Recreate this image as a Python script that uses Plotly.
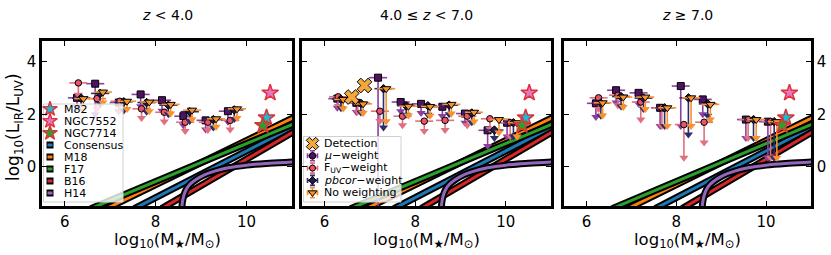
import plotly.graph_objects as go

FONT = "DejaVu Sans"
W, H = 831, 255

# ---------------- data ----------------
# local starburst galaxies (same in every panel)
STAR_NAMES = ["M82", "NGC7552", "NGC7714"]
STAR_M = [10.44, 10.52, 10.36]
STAR_IRX = [1.87, 2.82, 1.58]
STAR_FILL = ["#17becf", "#e377c2", "#2ca02c"]

# literature relations
REL_NAMES = ["Consensus", "M18", "F17", "B16", "H14"]
REL_COLORS = ["#1f77b4", "#ff7f0e", "#2ca02c", "#d62728", "#9467bd"]
CONS_M = [7.53, 11.1]
CONS_IRX = [-1.6, 1.58]
M18_M = [6.92, 11.1]
M18_IRX = [-1.6, 1.93]
F17_M = [6.57, 11.1]
F17_IRX = [-1.6, 1.68]
B16_M = [8.13, 11.1]
B16_IRX = [-1.6, 1.40]
H14_M = [8.57, 8.59, 8.62, 8.67, 8.75, 8.88, 9.05, 9.3, 9.6, 10.0, 10.5, 11.1]
H14_IRX = [-1.7, -1.35, -1.1, -0.88, -0.68, -0.5, -0.33, -0.17, -0.04, 0.06, 0.13, 0.19]

# panel titles
TITLES = ["<i>z</i> < 4.0", "4.0 ≤ <i>z</i> < 7.0", "<i>z</i> ≥ 7.0"]

# ---- panel 1: z < 4 ----
P1_MU_M = [6.27, 6.67, 7.19, 7.67, 8.14, 8.61, 9.10, 9.59]
P1_MU_IRX = [2.63, 3.17, 2.45, 2.76, 2.54, 1.93, 1.77, 2.12]
P1_MU_TIP = [2.28, 2.00, 2.12, 2.31, 2.14, 1.58, 1.42, 1.72]
P1_FUV_M = [6.30, 6.71, 7.21, 7.69, 8.19, 8.65, 9.15, 9.64]
P1_FUV_IRX = [3.20, 2.60, 2.50, 2.21, 2.08, 1.70, 1.70, 1.77]
P1_FUV_TIP = [2.75, 2.20, 2.15, 1.86, 1.73, 1.36, 1.40, 1.42]
P1_PBC_M = [6.36, 6.78, 7.30, 7.80, 8.28, 8.75, 9.27, 9.73]
P1_PBC_IRX = [2.62, 2.80, 2.48, 2.45, 2.35, 2.10, 1.80, 2.17]
P1_PBC_TIP = [2.27, 2.40, 2.15, 2.10, 2.00, 1.75, 1.50, 1.82]
P1_NOW_M = [6.41, 6.84, 7.37, 7.86, 8.33, 8.80, 9.33, 9.79]
P1_NOW_IRX = [2.60, 2.85, 2.50, 2.47, 2.38, 2.16, 1.83, 2.21]
P1_NOW_TIP = [2.25, 2.45, 2.20, 2.12, 2.03, 1.81, 1.53, 1.86]

# ---- panel 2: 4 <= z < 7 ----
P2_MU_M = [6.28, 6.70, 7.18, 7.68, 8.13, 8.60, 9.10, 9.60, 10.03]
P2_MU_IRX = [2.60, 2.44, 3.40, 2.47, 2.40, 2.29, 2.03, 1.39, 1.68]
P2_MU_TIP = [2.25, 2.09, -2.0, 2.12, 2.05, 1.94, 1.68, 0.79, 1.15]
P2_FUV_M = [6.30, 6.73, 7.22, 7.72, 8.20, 8.66, 9.15, 9.65, 10.10]
P2_FUV_IRX = [2.67, 2.45, 2.12, 1.93, 1.74, 1.77, 1.93, 1.83, 1.68]
P2_FUV_TIP = [2.32, 2.10, 1.75, 1.58, 1.36, 1.40, 1.58, 1.45, 1.15]
P2_PBC_M = [6.36, 6.80, 7.30, 7.80, 8.28, 8.75, 9.25, 9.75, 10.17]
P2_PBC_IRX = [2.58, 2.42, 2.98, 2.33, 2.33, 2.35, 2.05, 1.40, 1.68]
P2_PBC_TIP = [2.23, 2.07, 1.50, 1.98, 1.98, 2.00, 1.70, 1.10, 1.15]
P2_NOW_M = [6.41, 6.85, 7.36, 7.85, 8.33, 8.80, 9.30, 9.85, 10.25]
P2_NOW_IRX = [2.57, 2.40, 2.98, 2.31, 2.30, 2.38, 2.08, 1.80, 1.68]
P2_NOW_TIP = [2.22, 2.05, 1.74, 1.96, 1.95, 2.03, 1.73, 1.31, 1.15]
P2_DET_M = [6.60, 6.88]
P2_DET_IRX = [2.66, 3.10]

# ---- panel 3: z >= 7 ----
P3_MU_M = [6.21, 6.66, 7.16, 7.64, 8.10, 8.59, 9.55, 10.04]
P3_MU_IRX = [2.42, 2.92, 2.82, 2.25, 3.08, 2.57, 1.80, 1.72]
P3_MU_TIP = [1.90, 2.45, 2.40, 1.55, 1.55, 2.00, 1.10, 0.34]
P3_FUV_M = [6.27, 6.70, 7.21, 7.68, 8.17, 8.62, 9.60, 10.10]
P3_FUV_IRX = [2.63, 2.73, 2.47, 2.25, 1.61, 1.70, 1.80, 1.72]
P3_FUV_TIP = [2.20, 2.35, 1.80, 1.55, 0.34, 0.92, 1.10, 0.34]
P3_PBC_M = [6.32, 6.77, 7.27, 7.74, 8.27, 8.70, 9.72, 10.18]
P3_PBC_IRX = [2.43, 2.68, 2.62, 2.25, 2.63, 2.40, 1.80, 1.72]
P3_PBC_TIP = [1.95, 2.30, 2.20, 1.55, 1.23, 1.95, 1.10, 0.34]
P3_NOW_M = [6.36, 6.82, 7.31, 7.80, 8.33, 8.76, 9.78, 10.24]
P3_NOW_IRX = [2.44, 2.66, 2.66, 2.25, 2.63, 2.38, 1.80, 1.72]
P3_NOW_TIP = [1.96, 2.28, 2.20, 1.55, 1.55, 1.80, 1.10, 0.34]

XERR = 0.2
X_RANGE = [5.5, 11.0]
Y_RANGE = [-1.5, 4.8]
X_TICKS = [6, 8, 10]
Y_TICKS = [0, 2, 4]

# ---------------- styles ----------------
STYLES = {
    "mu": dict(sym="square", size=7, fill="#4f1260", err="#8c3f9e", name="<i>μ</i>−weight"),
    "fuv": dict(sym="circle", size=6.5, fill="#e85468", err="#e0707f", name="F<sub>UV</sub>−weight"),
    "pbc": dict(sym="diamond", size=6.5, fill="#1d1b4c", err="#2f2c6c", name="<i>pbcor</i>−weight"),
    "now": dict(sym="triangle-down", size=8, fill="#f7922e", err="#f7922e", name="No weighting"),
}
DET_COLOR = "#f5a83a"
STAR_EDGE = "#e0303a"

# panel pixel geometry
PANELS_PX = [(42, 292), (302, 551), (564, 811)]
TOP_PX, BOT_PX = 41, 206

fig = go.Figure()


def ax_ids(i):
    return ("x" if i == 0 else f"x{i+1}"), ("y" if i == 0 else f"y{i+1}")


def add_relations(xa, ya):
    rel = [(CONS_M, CONS_IRX), (M18_M, M18_IRX), (F17_M, F17_IRX), (B16_M, B16_IRX), (H14_M, H14_IRX)]
    for (mm, vv), col in zip(rel, REL_COLORS):
        shape = "spline" if len(mm) > 2 else "linear"
        fig.add_trace(go.Scatter(x=mm, y=vv, mode="lines", xaxis=xa, yaxis=ya,
                                 line=dict(color="black", width=7, shape=shape),
                                 showlegend=False, hoverinfo="skip"))
        fig.add_trace(go.Scatter(x=mm, y=vv, mode="lines", xaxis=xa, yaxis=ya,
                                 line=dict(color=col, width=3, shape=shape),
                                 showlegend=False, hoverinfo="skip"))


def add_series(xa, ya, m, irx, tip, st):
    minus = [v - t for v, t in zip(irx, tip)]
    fig.add_trace(go.Scatter(x=m, y=tip, mode="markers", xaxis=xa, yaxis=ya,
                             marker=dict(symbol="triangle-down", size=8, color=st["err"]),
                             showlegend=False, hoverinfo="skip"))
    fig.add_trace(go.Scatter(
        x=m, y=irx, mode="markers", xaxis=xa, yaxis=ya,
        marker=dict(symbol=st["sym"], size=st["size"], color=st["fill"],
                    line=dict(color="black", width=1)),
        error_x=dict(type="constant", value=XERR, color=st["err"], thickness=1.6, width=0),
        error_y=dict(type="data", symmetric=False, array=[0] * len(m), arrayminus=minus,
                     color=st["err"], thickness=1.6, width=0),
        showlegend=False, hoverinfo="skip"))


def add_stars(xa, ya):
    fig.add_trace(go.Scatter(x=STAR_M, y=STAR_IRX, mode="markers", xaxis=xa, yaxis=ya,
                             marker=dict(symbol="star", size=12.5, color=STAR_FILL,
                                         line=dict(color=STAR_EDGE, width=1.5)),
                             showlegend=False, hoverinfo="skip"))


PANEL_DATA = [
    [(P1_MU_M, P1_MU_IRX, P1_MU_TIP, "mu"), (P1_FUV_M, P1_FUV_IRX, P1_FUV_TIP, "fuv"),
     (P1_PBC_M, P1_PBC_IRX, P1_PBC_TIP, "pbc"), (P1_NOW_M, P1_NOW_IRX, P1_NOW_TIP, "now")],
    [(P2_MU_M, P2_MU_IRX, P2_MU_TIP, "mu"), (P2_FUV_M, P2_FUV_IRX, P2_FUV_TIP, "fuv"),
     (P2_PBC_M, P2_PBC_IRX, P2_PBC_TIP, "pbc"), (P2_NOW_M, P2_NOW_IRX, P2_NOW_TIP, "now")],
    [(P3_MU_M, P3_MU_IRX, P3_MU_TIP, "mu"), (P3_FUV_M, P3_FUV_IRX, P3_FUV_TIP, "fuv"),
     (P3_PBC_M, P3_PBC_IRX, P3_PBC_TIP, "pbc"), (P3_NOW_M, P3_NOW_IRX, P3_NOW_TIP, "now")],
]

for i in range(3):
    xa, ya = ax_ids(i)
    add_relations(xa, ya)
    for m, v, t, key in PANEL_DATA[i]:
        add_series(xa, ya, m, v, t, STYLES[key])
    if i == 1:
        fig.add_trace(go.Scatter(x=P2_DET_M, y=P2_DET_IRX, mode="markers", xaxis=xa, yaxis=ya,
                                 marker=dict(symbol="x", size=13, color=DET_COLOR,
                                             line=dict(color="black", width=1)),
                                 showlegend=False, hoverinfo="skip"))
    add_stars(xa, ya)

# ---------------- custom legends (overlay axes in pixel units) ----------------
PW1 = PANELS_PX[0][1] - PANELS_PX[0][0]
PW2 = PANELS_PX[1][1] - PANELS_PX[1][0]
PH = BOT_PX - TOP_PX


def leg_box(xa, ya, x0, x1, y0, y1):
    fig.add_trace(go.Scatter(x=[x0, x1, x1, x0, x0], y=[y0, y0, y1, y1, y0], mode="lines",
                             fill="toself", fillcolor="rgba(255,255,255,0.8)",
                             line=dict(color="#d0d0d0", width=1), xaxis=xa, yaxis=ya,
                             showlegend=False, hoverinfo="skip"))


def leg_text(xa, ya, x, y, txt):
    fig.add_annotation(x=x, y=y, xref=xa, yref=ya, text=txt, showarrow=False,
                       xanchor="left", yanchor="middle",
                       font=dict(family=FONT, size=11, color="black"))


# legend 1 (panel 1)
leg_box("x4", "y4", 1.5, 81, 63, 161)
L1_Y = [68, 80, 92, 104, 116, 128, 140, 152]
for k in range(3):
    fig.add_trace(go.Scatter(x=[8], y=[L1_Y[k]], mode="markers", xaxis="x4", yaxis="y4",
                             marker=dict(symbol="star", size=11, color=STAR_FILL[k],
                                         line=dict(color=STAR_EDGE, width=1.4)),
                             showlegend=False, hoverinfo="skip"))
    leg_text("x4", "y4", 20, L1_Y[k], STAR_NAMES[k])
for k in range(5):
    fig.add_trace(go.Scatter(x=[4.5, 11.5], y=[L1_Y[3 + k]] * 2, mode="lines", xaxis="x4", yaxis="y4",
                             line=dict(color="black", width=7), showlegend=False, hoverinfo="skip"))
    fig.add_trace(go.Scatter(x=[5.5, 10.5], y=[L1_Y[3 + k]] * 2, mode="lines", xaxis="x4", yaxis="y4",
                             line=dict(color=REL_COLORS[k], width=3), showlegend=False, hoverinfo="skip"))
    leg_text("x4", "y4", 20, L1_Y[3 + k], REL_NAMES[k])

# legend 2 (panel 2)
leg_box("x5", "y5", 1.5, 99, 95.5, 161)
L2_Y = [102.5, 114.8, 127.1, 139.4, 151.7]
fig.add_trace(go.Scatter(x=[10.5], y=[L2_Y[0]], mode="markers", xaxis="x5", yaxis="y5",
                         marker=dict(symbol="x", size=11, color=DET_COLOR, line=dict(color="black", width=1)),
                         showlegend=False, hoverinfo="skip"))
leg_text("x5", "y5", 20, L2_Y[0], "Detection")
for k, key in enumerate(["mu", "fuv", "pbc", "now"]):
    st = STYLES[key]
    fig.add_trace(go.Scatter(x=[10.5], y=[L2_Y[k + 1]], mode="markers", xaxis="x5", yaxis="y5",
                             marker=dict(symbol=st["sym"] if key != "mu" else "circle", size=st["size"] - 0.5,
                                         color=st["fill"], line=dict(color="black", width=1)),
                             error_x=dict(type="constant", value=5, color=st["err"], thickness=1.6, width=2.5),
                             error_y=dict(type="constant", value=5, color=st["err"], thickness=1.6, width=2.5),
                             showlegend=False, hoverinfo="skip"))
    leg_text("x5", "y5", 20, L2_Y[k + 1], st["name"])

# ---------------- layout ----------------
def dom_x(i):
    a, b = PANELS_PX[i]
    return [a / W, b / W]


YDOM = [(H - BOT_PX) / H, (H - TOP_PX) / H]

common = dict(showgrid=False, zeroline=False, showline=True, linecolor="black", linewidth=2.5,
              mirror="allticks", ticks="inside", ticklen=5, tickwidth=1.3, tickcolor="black",
              tickfont=dict(family=FONT, size=15, color="black"), automargin=False)

layout = dict(width=W, height=H, margin=dict(l=0, r=0, t=0, b=0, autoexpand=False),
              paper_bgcolor="white", plot_bgcolor="white", showlegend=False,
              font=dict(family=FONT, color="black"))
for i in range(3):
    xk = "xaxis" if i == 0 else f"xaxis{i+1}"
    yk = "yaxis" if i == 0 else f"yaxis{i+1}"
    xa, ya = ax_ids(i)
    layout[xk] = dict(common, domain=dom_x(i), range=X_RANGE, tickvals=X_TICKS, anchor=ya)
    yd = dict(common, domain=YDOM, range=Y_RANGE, tickvals=Y_TICKS, anchor=xa)
    if i == 1:
        yd["showticklabels"] = False
    if i == 2:
        yd["side"] = "right"
    layout[yk] = yd

layout["xaxis4"] = dict(overlaying="x", range=[0, PW1], visible=False, anchor="y4")
layout["yaxis4"] = dict(overlaying="y", range=[PH, 0], visible=False, anchor="x4")
layout["xaxis5"] = dict(overlaying="x2", range=[0, PW2], visible=False, anchor="y5")
layout["yaxis5"] = dict(overlaying="y2", range=[PH, 0], visible=False, anchor="x5")

fig.update_layout(**layout)

# titles and axis labels
for i in range(3):
    a, b = PANELS_PX[i]
    cx = (a + b) / 2 / W
    fig.add_annotation(x=cx, y=1 - 15 / H, xref="paper", yref="paper", text=TITLES[i],
                       xanchor="center", yanchor="middle",
                       showarrow=False, font=dict(family=FONT, size=14, color="black"))
    fig.add_annotation(x=cx, y=1 - 240 / H, xref="paper", yref="paper",
                       xanchor="center", yanchor="middle",
                       text="log<sub>10</sub>(M<sub>★</sub>/M<sub>⊙</sub>)",
                       showarrow=False, font=dict(family=FONT, size=16.5, color="black"))
fig.add_annotation(x=14 / W, y=1 - 127 / H, xref="paper", yref="paper", textangle=-90,
                   xanchor="center", yanchor="middle",
                   text="log<sub>10</sub>(L<sub>IR</sub>/L<sub>UV</sub>)",
                   showarrow=False, font=dict(family=FONT, size=17, color="black"))

fig.write_html("out.html", config={"displayModeBar": False},
               post_script="document.body.style.margin='0px';document.body.style.padding='0px';")
